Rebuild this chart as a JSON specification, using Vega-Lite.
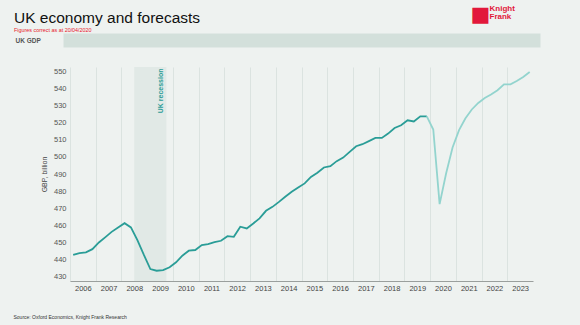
{
  "$schema": "https://vega.github.io/schema/vega-lite/v6.json",
  "autosize": {"type": "none"},
  "width": 463,
  "height": 214,
  "padding": {"left": 70, "top": 67, "right": 47, "bottom": 44},
  "background": "#eef2f0",
  "config": {"view": {"stroke": null}, "font": "Liberation Sans"},
  "title": {
    "text": "UK economy and forecasts",
    "subtitle": "Figures correct as at 20/04/2020",
    "anchor": "start",
    "frame": "group",
    "dx": -56,
    "offset": -30,
    "font": "Liberation Sans",
    "fontSize": 15.5,
    "fontWeight": "normal",
    "color": "#111111",
    "subtitleFont": "Liberation Sans",
    "subtitleFontSize": 5.4,
    "subtitleColor": "#e8192c",
    "subtitlePadding": 1.5
  },
  "datasets": {
    "gdp": [
      {"date": "2006/02/15", "gdp": 442.7, "series": "Actual"},
      {"date": "2006/05/15", "gdp": 443.8, "series": "Actual"},
      {"date": "2006/08/15", "gdp": 444.2, "series": "Actual"},
      {"date": "2006/11/15", "gdp": 446.1, "series": "Actual"},
      {"date": "2007/02/15", "gdp": 450.0, "series": "Actual"},
      {"date": "2007/05/15", "gdp": 453.0, "series": "Actual"},
      {"date": "2007/08/15", "gdp": 456.2, "series": "Actual"},
      {"date": "2007/11/15", "gdp": 458.8, "series": "Actual"},
      {"date": "2008/02/15", "gdp": 461.3, "series": "Actual"},
      {"date": "2008/05/15", "gdp": 458.8, "series": "Actual"},
      {"date": "2008/08/15", "gdp": 451.4, "series": "Actual"},
      {"date": "2008/11/15", "gdp": 442.7, "series": "Actual"},
      {"date": "2009/02/15", "gdp": 434.5, "series": "Actual"},
      {"date": "2009/05/15", "gdp": 433.5, "series": "Actual"},
      {"date": "2009/08/15", "gdp": 433.9, "series": "Actual"},
      {"date": "2009/11/15", "gdp": 435.5, "series": "Actual"},
      {"date": "2010/02/15", "gdp": 438.4, "series": "Actual"},
      {"date": "2010/05/15", "gdp": 442.3, "series": "Actual"},
      {"date": "2010/08/15", "gdp": 445.2, "series": "Actual"},
      {"date": "2010/11/15", "gdp": 445.6, "series": "Actual"},
      {"date": "2011/02/15", "gdp": 448.5, "series": "Actual"},
      {"date": "2011/05/15", "gdp": 449.1, "series": "Actual"},
      {"date": "2011/08/15", "gdp": 450.2, "series": "Actual"},
      {"date": "2011/11/15", "gdp": 451.0, "series": "Actual"},
      {"date": "2012/02/15", "gdp": 453.7, "series": "Actual"},
      {"date": "2012/05/15", "gdp": 453.3, "series": "Actual"},
      {"date": "2012/08/15", "gdp": 459.2, "series": "Actual"},
      {"date": "2012/11/15", "gdp": 458.2, "series": "Actual"},
      {"date": "2013/02/15", "gdp": 461.1, "series": "Actual"},
      {"date": "2013/05/15", "gdp": 464.1, "series": "Actual"},
      {"date": "2013/08/15", "gdp": 468.5, "series": "Actual"},
      {"date": "2013/11/15", "gdp": 470.8, "series": "Actual"},
      {"date": "2014/02/15", "gdp": 473.7, "series": "Actual"},
      {"date": "2014/05/15", "gdp": 476.7, "series": "Actual"},
      {"date": "2014/08/15", "gdp": 479.6, "series": "Actual"},
      {"date": "2014/11/15", "gdp": 482.1, "series": "Actual"},
      {"date": "2015/02/15", "gdp": 484.5, "series": "Actual"},
      {"date": "2015/05/15", "gdp": 488.3, "series": "Actual"},
      {"date": "2015/08/15", "gdp": 490.7, "series": "Actual"},
      {"date": "2015/11/15", "gdp": 493.8, "series": "Actual"},
      {"date": "2016/02/15", "gdp": 494.6, "series": "Actual"},
      {"date": "2016/05/15", "gdp": 497.5, "series": "Actual"},
      {"date": "2016/08/15", "gdp": 499.6, "series": "Actual"},
      {"date": "2016/11/15", "gdp": 502.9, "series": "Actual"},
      {"date": "2017/02/15", "gdp": 506.2, "series": "Actual"},
      {"date": "2017/05/15", "gdp": 507.4, "series": "Actual"},
      {"date": "2017/08/15", "gdp": 509.2, "series": "Actual"},
      {"date": "2017/11/15", "gdp": 511.1, "series": "Actual"},
      {"date": "2018/02/15", "gdp": 511.1, "series": "Actual"},
      {"date": "2018/05/15", "gdp": 513.6, "series": "Actual"},
      {"date": "2018/08/15", "gdp": 516.9, "series": "Actual"},
      {"date": "2018/11/15", "gdp": 518.5, "series": "Actual"},
      {"date": "2019/02/15", "gdp": 521.4, "series": "Actual"},
      {"date": "2019/05/15", "gdp": 520.7, "series": "Actual"},
      {"date": "2019/08/15", "gdp": 523.7, "series": "Actual"},
      {"date": "2019/11/15", "gdp": 523.7, "series": "Actual"},
      {"date": "2019/11/15", "gdp": 523.7, "series": "Forecast"},
      {"date": "2020/02/15", "gdp": 516.0, "series": "Forecast"},
      {"date": "2020/05/15", "gdp": 472.4, "series": "Forecast"},
      {"date": "2020/08/15", "gdp": 490.3, "series": "Forecast"},
      {"date": "2020/11/15", "gdp": 505.5, "series": "Forecast"},
      {"date": "2021/02/15", "gdp": 515.6, "series": "Forecast"},
      {"date": "2021/05/15", "gdp": 522.4, "series": "Forecast"},
      {"date": "2021/08/15", "gdp": 527.7, "series": "Forecast"},
      {"date": "2021/11/15", "gdp": 531.5, "series": "Forecast"},
      {"date": "2022/02/15", "gdp": 534.4, "series": "Forecast"},
      {"date": "2022/05/15", "gdp": 536.4, "series": "Forecast"},
      {"date": "2022/08/15", "gdp": 538.9, "series": "Forecast"},
      {"date": "2022/11/15", "gdp": 542.4, "series": "Forecast"},
      {"date": "2023/02/15", "gdp": 542.4, "series": "Forecast"},
      {"date": "2023/05/15", "gdp": 544.3, "series": "Forecast"},
      {"date": "2023/08/15", "gdp": 546.7, "series": "Forecast"},
      {"date": "2023/11/15", "gdp": 549.6, "series": "Forecast"}
    ],
    "recession": [
      {"start": "2008/07/01", "end": "2009/10/01", "label": "UK recession"}
    ]
  },
  "layer": [
    {
      "data": {"name": "recession"},
      "mark": {"type": "rect", "fill": "#e1e9e6"},
      "encoding": {
        "x": {
          "field": "start", "type": "temporal",
          "scale": {"domain": [{"year": 2006, "month": 1, "date": 1}, {"year": 2024, "month": 1, "date": 1}], "nice": false},
          "axis": {
            "orient": "bottom",
            "values": [{"year": 2006, "month": 1, "date": 1}, {"year": 2007, "month": 1, "date": 1}, {"year": 2008, "month": 1, "date": 1}, {"year": 2009, "month": 1, "date": 1}, {"year": 2010, "month": 1, "date": 1}, {"year": 2011, "month": 1, "date": 1}, {"year": 2012, "month": 1, "date": 1}, {"year": 2013, "month": 1, "date": 1}, {"year": 2014, "month": 1, "date": 1}, {"year": 2015, "month": 1, "date": 1}, {"year": 2016, "month": 1, "date": 1}, {"year": 2017, "month": 1, "date": 1}, {"year": 2018, "month": 1, "date": 1}, {"year": 2019, "month": 1, "date": 1}, {"year": 2020, "month": 1, "date": 1}, {"year": 2021, "month": 1, "date": 1}, {"year": 2022, "month": 1, "date": 1}, {"year": 2023, "month": 1, "date": 1}],
            "format": "%Y",
            "labelOffset": 12.86,
            "labelFlush": false,
            "labelOverlap": false,
            "labelFont": "Liberation Sans",
            "labelFontSize": 7.5,
            "labelColor": "#444444",
            "labelPadding": 3,
            "ticks": false,
            "grid": true,
            "gridColor": "#dbe3e0",
            "gridWidth": 1,
            "domainColor": "#9a9f9d",
            "domainWidth": 1,
            "title": "Source: Oxford Economics, Knight Frank Research",
            "titleX": -57,
            "titleY": 35,
            "titleAlign": "left",
            "titleAnchor": "start",
            "titleBaseline": "middle",
            "titleFont": "Liberation Sans",
            "titleFontSize": 5,
            "titleFontWeight": "normal",
            "titleColor": "#333333"
          }
        },
        "x2": {"field": "end"}
      }
    },
    {
      "data": {"name": "recession"},
      "mark": {"type": "text", "angle": 270, "align": "right", "baseline": "middle", "dx": -1.5, "dy": -5, "font": "Liberation Sans", "fontSize": 7, "fontWeight": "bold", "color": "#2a9d97"},
      "encoding": {
        "x": {
          "field": "end", "type": "temporal",
          "axis": {
            "orient": "top",
            "labels": false,
            "ticks": false,
            "domain": false,
            "grid": false,
            "title": "■",
            "titleX": 400,
            "titleY": -53,
            "titleAlign": "left",
            "titleAnchor": "start",
            "titleBaseline": "middle",
            "titleFont": "DejaVu Sans",
            "titleFontSize": 21,
            "titleFontWeight": "normal",
            "titleColor": "#e2183b"
          }
        },
        "y": {
          "datum": 552.5,
          "type": "quantitative",
          "axis": {
            "orient": "right",
            "labels": false,
            "ticks": false,
            "domain": false,
            "grid": false,
            "title": ["Knight", "Frank"],
            "titleAngle": 0,
            "titleX": -44,
            "titleY": -62.5,
            "titleAlign": "left",
            "titleAnchor": "start",
            "titleBaseline": "top",
            "titleFont": "Liberation Sans",
            "titleFontSize": 8,
            "titleFontWeight": "bold",
            "titleColor": "#e2183b",
            "titleLineHeight": 8
          }
        },
        "text": {"field": "label"}
      }
    },
    {
      "data": {"name": "gdp"},
      "mark": {"type": "line", "strokeWidth": 1.8, "interpolate": "linear"},
      "encoding": {
        "x": {
          "field": "date", "type": "temporal",
          "axis": {
            "orient": "top",
            "offset": 27,
            "labels": false,
            "ticks": false,
            "grid": false,
            "domainColor": "#d3e0db",
            "domainWidth": 14,
            "domainCap": "square",
            "title": "UK GDP",
            "titleX": -55,
            "titleY": 0,
            "titleAlign": "left",
            "titleAnchor": "start",
            "titleBaseline": "middle",
            "titleFont": "Liberation Sans",
            "titleFontSize": 6.5,
            "titleFontWeight": "bold",
            "titleColor": "#555555"
          }
        },
        "y": {
          "field": "gdp", "type": "quantitative",
          "scale": {"domain": [427.5, 552.5], "nice": false, "zero": false},
          "axis": {
            "orient": "left",
            "values": [430, 440, 450, 460, 470, 480, 490, 500, 510, 520, 530, 540, 550],
            "labelFont": "Liberation Sans",
            "labelFontSize": 7.5,
            "labelColor": "#555555",
            "labelPadding": 4,
            "ticks": false,
            "domain": false,
            "grid": false,
            "title": "GBP, billion",
            "titleX": -26,
            "titleY": 107,
            "titleAngle": 270,
            "titleAlign": "center",
            "titleAnchor": "middle",
            "titleBaseline": "middle",
            "titleFont": "Liberation Sans",
            "titleFontSize": 7,
            "titleFontWeight": "normal",
            "titleColor": "#444444"
          }
        },
        "color": {
          "field": "series", "type": "nominal",
          "scale": {"domain": ["Actual", "Forecast"], "range": ["#2a9d97", "#93d4ce"]},
          "legend": null
        }
      }
    }
  ]
}
